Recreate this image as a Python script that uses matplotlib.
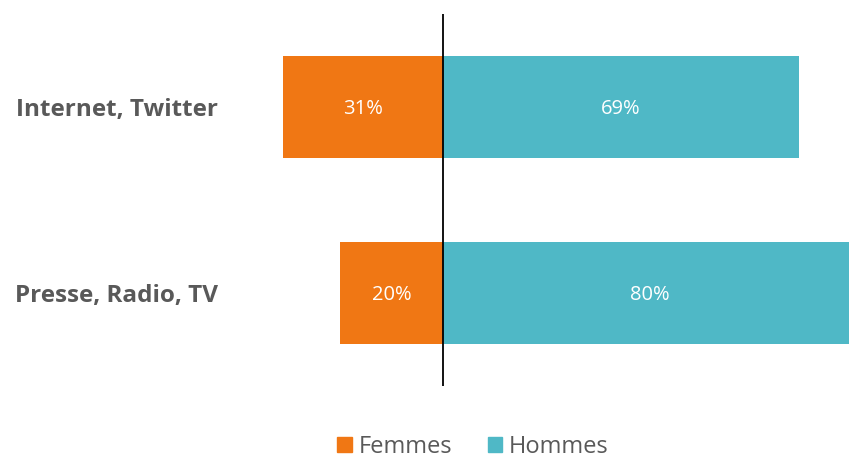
import matplotlib
matplotlib.use("Agg")
import matplotlib.pyplot as plt
from matplotlib.patches import Patch

categories = ["Presse, Radio, TV", "Internet, Twitter"]
femmes = [20, 31]
hommes = [80, 69]
series_names = ["Femmes", "Hommes"]

c_f = "#F07714"
c_h = "#4FB8C6"
gray = "#595959"

plt.rcParams['font.family'] = ['Open Sans', 'DejaVu Sans']

fig = plt.figure(figsize=(8.49, 4.58), dpi=100)
ax = fig.add_axes([240/849, 72/458, 609/849, 372/458])

y = list(range(len(categories)))
ax.barh(y, [-v for v in femmes], height=0.55, color=c_f)
ax.barh(y, hommes, height=0.55, color=c_h)
for yi, f, h in zip(y, femmes, hommes):
    ax.text(-f/2, yi - 0.012, f"{f}%", ha="center", va="center", color="white", fontsize=14.5)
    ax.text(h/2, yi - 0.012, f"{h}%", ha="center", va="center", color="white", fontsize=14.5)

ax.axvline(0, color="black", lw=1.3)
ax.set_xlim(-203/5.16, 406/5.16)
ax.set_ylim(-0.5, 1.5)
ax.set_yticks(y)
ax.set_yticklabels(categories, fontsize=17.5, fontweight="bold", color=gray)
ax.tick_params(axis="y", length=0, pad=16)
ax.set_xticks([])
for s in ax.spines.values():
    s.set_visible(False)

handles = [Patch(color=c_f), Patch(color=c_h)]
leg = fig.legend(handles, series_names, loc="center", bbox_to_anchor=(473/849, 1 - 447/458),
                 ncol=2, frameon=False, fontsize=17, handlelength=0.6, handleheight=0.6,
                 handletextpad=0.3, columnspacing=1.5, borderpad=0, borderaxespad=0)
for t in leg.get_texts():
    t.set_color(gray)

fig.savefig("out.png", dpi=100)
